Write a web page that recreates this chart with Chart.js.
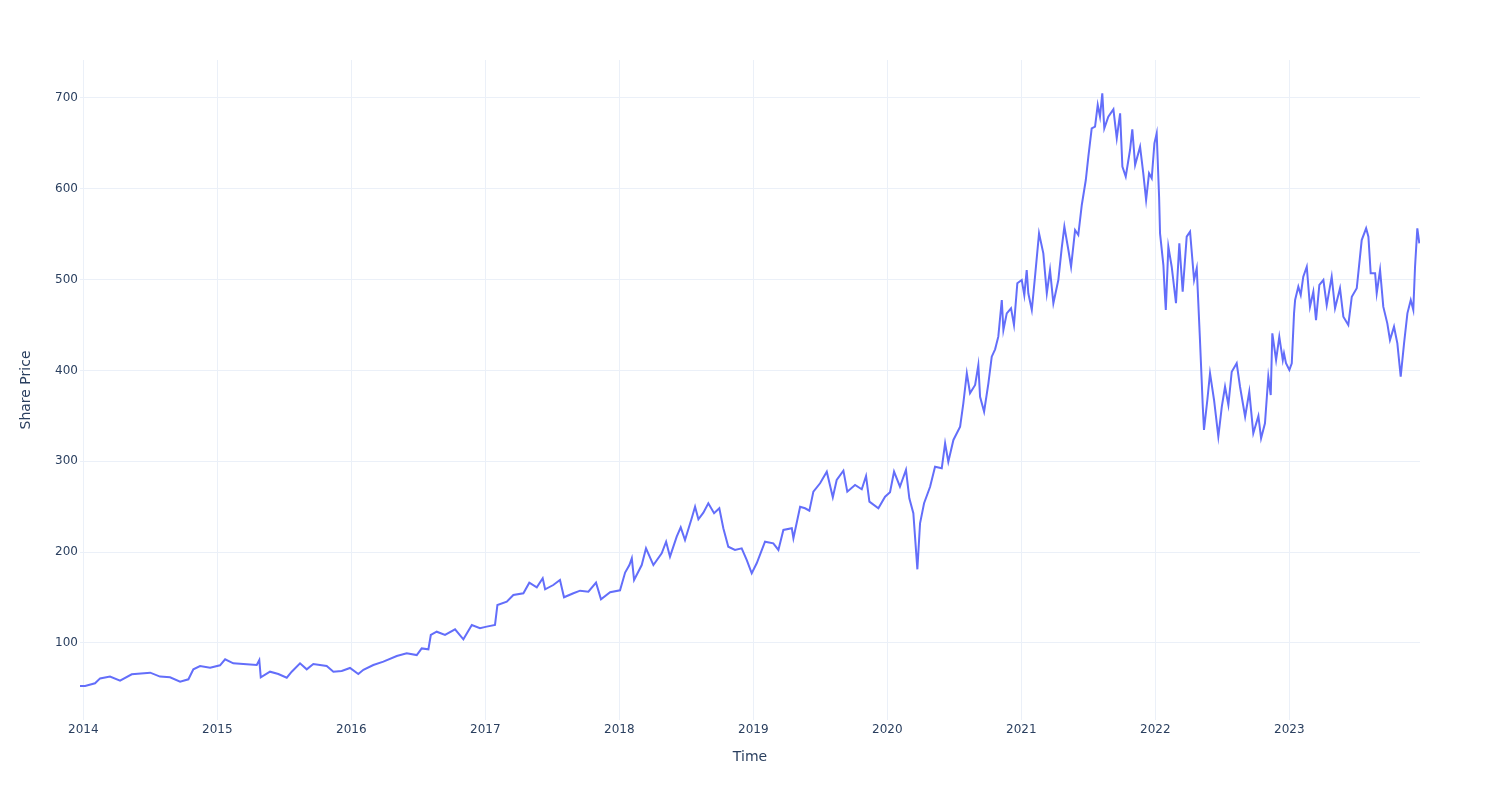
<!DOCTYPE html>
<html>
<head>
<meta charset="utf-8">
<script src="https://cdn.jsdelivr.net/npm/chart.js@4.4.1/dist/chart.umd.min.js"></script>
<style>
  html, body { margin: 0; padding: 0; background: #ffffff; }
  #wrap { width: 1500px; height: 800px; }
</style>
</head>
<body>
<div id="wrap"><canvas id="c" width="1500" height="800"></canvas></div>
<script>
// Time as decimal years
const timeYears = [
  2013.975, 2014.013, 2014.087, 2014.125, 2014.199, 2014.274, 2014.361, 2014.499, 2014.572, 2014.647,
  2014.722, 2014.784, 2014.821, 2014.871, 2014.946, 2015.020, 2015.058, 2015.119, 2015.219, 2015.294,
  2015.313, 2015.324, 2015.393, 2015.455, 2015.518, 2015.555, 2015.617, 2015.667, 2015.716, 2015.816,
  2015.866, 2015.928, 2015.990, 2016.052, 2016.090, 2016.164, 2016.239, 2016.339, 2016.413, 2016.488,
  2016.525, 2016.575, 2016.593, 2016.637, 2016.699, 2016.774, 2016.836, 2016.899, 2016.960, 2017.010,
  2017.072, 2017.090, 2017.160, 2017.209, 2017.284, 2017.328, 2017.384, 2017.428, 2017.446, 2017.507,
  2017.557, 2017.587, 2017.657, 2017.707, 2017.769, 2017.826, 2017.863, 2017.931, 2018.005, 2018.043,
  2018.075, 2018.093, 2018.110, 2018.167, 2018.199, 2018.254, 2018.316, 2018.349, 2018.378, 2018.428,
  2018.458, 2018.490, 2018.540, 2018.565, 2018.590, 2018.627, 2018.664, 2018.707, 2018.746, 2018.776,
  2018.813, 2018.863, 2018.913, 2018.951, 2018.988, 2019.025, 2019.087, 2019.149, 2019.187, 2019.224,
  2019.287, 2019.299, 2019.349, 2019.386, 2019.418, 2019.448, 2019.498, 2019.548, 2019.593, 2019.622,
  2019.672, 2019.701, 2019.759, 2019.809, 2019.841, 2019.866, 2019.933, 2019.983, 2020.020, 2020.050,
  2020.094, 2020.139, 2020.164, 2020.194, 2020.224, 2020.244, 2020.274, 2020.319, 2020.356, 2020.406,
  2020.431, 2020.455, 2020.493, 2020.543, 2020.567, 2020.593, 2020.617, 2020.655, 2020.679, 2020.692,
  2020.722, 2020.754, 2020.779, 2020.804, 2020.828, 2020.854, 2020.866, 2020.891, 2020.923, 2020.945,
  2020.970, 2021.003, 2021.022, 2021.040, 2021.052, 2021.078, 2021.102, 2021.132, 2021.164, 2021.190,
  2021.214, 2021.239, 2021.276, 2021.301, 2021.321, 2021.351, 2021.371, 2021.401, 2021.425, 2021.451,
  2021.481, 2021.500, 2021.525, 2021.550, 2021.570, 2021.587, 2021.604, 2021.619, 2021.649, 2021.687,
  2021.712, 2021.737, 2021.754, 2021.779, 2021.811, 2021.828, 2021.849, 2021.886, 2021.910, 2021.931,
  2021.953, 2021.973, 2021.993, 2022.010, 2022.028, 2022.035, 2022.060, 2022.072, 2022.078, 2022.097,
  2022.122, 2022.154, 2022.179, 2022.204, 2022.234, 2022.259, 2022.289, 2022.309, 2022.333, 2022.354,
  2022.363, 2022.388, 2022.408, 2022.438, 2022.470, 2022.496, 2022.520, 2022.545, 2022.570, 2022.607,
  2022.632, 2022.670, 2022.701, 2022.731, 2022.769, 2022.789, 2022.818, 2022.843, 2022.861, 2022.873,
  2022.901, 2022.925, 2022.951, 2022.960, 2022.975, 2023.000, 2023.018, 2023.035, 2023.043, 2023.067,
  2023.085, 2023.104, 2023.130, 2023.154, 2023.179, 2023.199, 2023.224, 2023.254, 2023.279, 2023.316,
  2023.341, 2023.378, 2023.403, 2023.440, 2023.466, 2023.503, 2023.540, 2023.573, 2023.590, 2023.607,
  2023.640, 2023.652, 2023.677, 2023.701, 2023.731, 2023.751, 2023.781, 2023.806, 2023.831, 2023.856,
  2023.881, 2023.906, 2023.925, 2023.938, 2023.955, 2023.970
];

// Share price values
const sharePrice = [
  52.6, 52.6, 55.6, 61.0, 63.0, 58.5, 65.5, 67.3, 63.0, 62.2,
  57.4, 60.0, 71.0, 74.6, 72.8, 75.4, 82.0, 77.6, 76.5, 75.7,
  81.2, 62.2, 68.4, 65.8, 61.8, 68.4, 77.6, 71.0, 76.8, 74.6,
  68.4, 69.1, 72.5, 65.8, 70.5, 75.7, 79.4, 85.6, 88.6, 86.7,
  94.0, 93.0, 108.8, 112.4, 108.8, 115.0, 104.0, 119.8, 116.2, 118.0,
  119.8, 141.8, 145.4, 152.8, 154.7, 166.4, 161.3, 171.2, 159.1, 163.8,
  169.3, 150.3, 154.7, 157.6, 156.5, 166.4, 148.1, 155.8, 158.0, 177.5,
  185.8, 193.2, 169.3, 185.8, 204.2, 185.8, 198.7, 211.5, 195.0, 217.0,
  227.3, 213.4, 237.3, 250.0, 236.2, 243.4, 253.8, 242.8, 248.3, 226.3,
  206.0, 202.4, 204.2, 191.3, 176.7, 187.7, 211.5, 209.7, 202.4, 224.4,
  226.3, 215.2, 250.0, 248.3, 245.7, 266.6, 275.8, 288.6, 260.4, 279.4,
  289.7, 266.6, 274.0, 269.2, 283.8, 255.6, 248.3, 261.1, 266.0, 288.6,
  272.0, 290.5, 259.3, 242.8, 181.1, 231.8, 253.8, 272.0, 294.0, 292.3,
  319.8, 299.6, 323.5, 338.1, 363.9, 397.0, 374.9, 384.0, 406.0, 371.0,
  354.6, 385.9, 415.2, 423.3, 437.2, 477.6, 444.6, 462.9, 468.5, 450.1,
  496.0, 499.6, 483.0, 510.6, 485.0, 466.6, 503.3, 551.0, 529.0, 485.0,
  510.6, 474.0, 499.6, 534.5, 558.3, 532.6, 514.2, 554.6, 549.2, 582.2,
  609.7, 635.4, 666.6, 668.4, 692.3, 679.4, 705.2, 666.6, 679.4, 687.5,
  655.6, 683.1, 624.4, 613.4, 642.7, 665.5, 626.2, 646.4, 617.1, 587.7,
  617.1, 611.6, 650.1, 661.1, 591.0, 551.0, 516.0, 481.2, 466.6, 536.3,
  514.2, 474.0, 540.0, 486.7, 547.3, 552.8, 499.6, 512.5, 433.6, 360.1,
  334.5, 367.5, 397.0, 367.5, 327.1, 360.1, 382.1, 362.0, 398.6, 407.9,
  382.1, 349.1, 376.6, 330.8, 349.9, 325.3, 341.9, 393.2, 373.0, 440.9,
  411.5, 437.2, 411.5, 418.9, 407.9, 400.5, 407.9, 462.9, 477.6, 492.3,
  483.1, 503.3, 514.2, 470.2, 486.7, 455.5, 494.1, 499.6, 472.0, 503.3,
  468.5, 490.5, 459.2, 450.1, 481.2, 490.5, 543.6, 556.5, 547.3, 507.0,
  507.0, 485.0, 510.6, 470.2, 451.9, 433.6, 448.2, 429.9, 393.2, 429.9,
  462.9, 477.6, 466.6, 514.2, 556.5, 540.0
];

// Tick values
const yearTicks = [2014, 2015, 2016, 2017, 2018, 2019, 2020, 2021, 2022, 2023];
const priceTicks = [100, 200, 300, 400, 500, 600, 700];

const points = timeYears.map((t, i) => ({ x: t, y: sharePrice[i] }));

const fontFamily = '"DejaVu Sans", Verdana, sans-serif';
const textColor = '#2a3f5f';
const gridColor = '#ebf0f8';

new Chart(document.getElementById('c'), {
  type: 'line',
  data: {
    datasets: [{
      data: points,
      borderColor: '#636efa',
      backgroundColor: '#636efa',
      borderWidth: 2,
      pointRadius: 0,
      pointHoverRadius: 0,
      tension: 0,
      fill: false
    }]
  },
  options: {
    responsive: false,
    animation: false,
    layout: { padding: { left: 0, right: 80, top: 60, bottom: 0 } },
    plugins: {
      legend: { display: false },
      tooltip: { enabled: false }
    },
    scales: {
      x: {
        type: 'linear',
        min: 2013.975,
        max: 2023.975,
        afterBuildTicks: (s) => { s.ticks = yearTicks.map(v => ({ value: v })); },
        afterFit: (s) => { s.height = 80; },
        grid: { color: gridColor, lineWidth: 1, drawTicks: false },
        border: { display: false },
        ticks: {
          padding: 3,
          maxRotation: 0,
          autoSkip: false,
          color: textColor,
          font: { family: fontFamily, size: 12 },
          callback: (v) => String(v)
        },
        title: {
          display: true,
          text: 'Time',
          color: textColor,
          font: { family: fontFamily, size: 14 },
          padding: { top: 0, bottom: 34 }
        }
      },
      y: {
        type: 'linear',
        min: 15.2,
        max: 741.8,
        afterBuildTicks: (s) => { s.ticks = priceTicks.map(v => ({ value: v })); },
        afterFit: (s) => { s.width = 80; },
        grid: { color: gridColor, lineWidth: 1, drawTicks: false },
        border: { display: false },
        ticks: {
          padding: 2,
          color: textColor,
          font: { family: fontFamily, size: 12 },
          callback: (v) => String(v)
        },
        title: {
          display: true,
          text: 'Share Price',
          color: textColor,
          font: { family: fontFamily, size: 14 },
          padding: { top: 18, bottom: 0 }
        }
      }
    }
  }
});
</script>
</body>
</html>
